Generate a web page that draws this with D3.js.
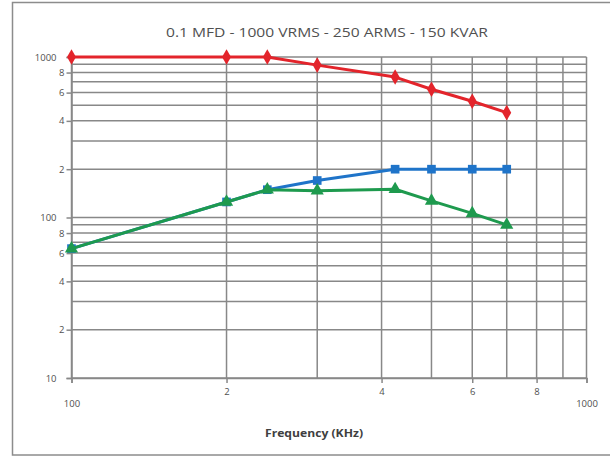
<!DOCTYPE html>
<html>
<head>
<meta charset="utf-8">
<script src="https://cdn.jsdelivr.net/npm/d3@7"></script>
<style>
  html, body { margin: 0; padding: 0; background: #fff; }
  svg { display: block; }
</style>
</head>
<body>
<svg id="chart" width="610" height="458"></svg>
<script>
// ---- data ----
const titleText = "0.1 MFD - 1000 VRMS - 250 ARMS - 150 KVAR";
const xTitle = "Frequency (KHz)";
const frequencies = [100, 200, 240, 300, 425, 500, 600, 700];
const redValues   = [1000, 1000, 1000, 890, 750, 630, 530, 450];
const blueValues  = [64, 125, 149, 170, 200, 200, 200, 200];
const greenValues = [64, 125, 149, 147, 150, 127, 106, 90];
const xTickValues = [100, 200, 400, 600, 800, 1000];
const xTickLabels = ["100", "2", "4", "6", "8", "1000"];
const yTickValues = [1000, 800, 600, 400, 200, 100, 80, 60, 40, 20, 10];
const yTickLabels = ["1000", "8", "6", "4", "2", "100", "8", "6", "4", "2", "10"];
const decades = [10, 100];
const multipliers = [1, 2, 3, 4, 5, 6, 7, 8, 9];

const series = [
  { values: redValues,   color: "#e3242b", marker: "diamond" },
  { values: blueValues,  color: "#1f74c9", marker: "square" },
  { values: greenValues, color: "#1e9a4e", marker: "triangle" }
];

// ---- layout ----
const svg = d3.select("#chart");
const plotL = 71.5, plotR = 586.5, plotT = 57, plotB = 378;
const x = d3.scaleLog().domain([100, 1000]).range([plotL, plotR]);
const y = d3.scaleLog().domain([10, 1000]).range([plotB, plotT]);
const font = "'Open Sans', 'Liberation Sans', sans-serif";

svg.append("rect").attr("x", 0).attr("y", 0).attr("width", 610).attr("height", 458).attr("fill", "#fff");
// outer frame
svg.append("rect")
  .attr("x", 12.5).attr("y", 2.5).attr("width", 610).attr("height", 452.5)
  .attr("fill", "none").attr("stroke", "#8c8c8c").attr("stroke-width", 1.5);

// title
svg.append("text")
  .attr("x", 327).attr("y", 37)
  .attr("text-anchor", "middle")
  .attr("font-family", font).attr("font-size", 13)
  .attr("textLength", 322).attr("lengthAdjust", "spacingAndGlyphs")
  .attr("fill", "#505050")
  .text(titleText);

// gridlines
const gridVals = [];
decades.forEach(d => multipliers.forEach(m => gridVals.push(d * m)));
gridVals.push(1000);
const grid = svg.append("g").attr("stroke", "#888").attr("stroke-width", 1.5);
gridVals.forEach(v => {
  grid.append("line").attr("x1", plotL).attr("x2", plotR).attr("y1", y(v)).attr("y2", y(v));
});
gridVals.filter(v => v >= 100).forEach(v => {
  grid.append("line").attr("x1", x(v)).attr("x2", x(v)).attr("y1", plotT).attr("y2", plotB);
});

// axes
const yAxis = svg.append("g")
  .attr("transform", `translate(${plotL},0)`)
  .call(d3.axisLeft(y).tickValues(yTickValues).tickSize(5).tickPadding(3)
    .tickFormat((d, i) => yTickLabels[i]));
const xAxis = svg.append("g")
  .attr("transform", `translate(0,${plotB})`)
  .call(d3.axisBottom(x).tickValues(xTickValues).tickSize(5).tickPadding(4)
    .tickFormat((d, i) => xTickLabels[i]));
[xAxis, yAxis].forEach(a => {
  a.select(".domain").attr("stroke", "#888").attr("stroke-width", 1.5);
  a.selectAll(".tick line").attr("stroke", "#888").attr("stroke-width", 1.5);
  a.selectAll("text").attr("font-family", font).attr("font-size", 9.5).attr("fill", "#505050");
});
yAxis.selectAll(".tick text")
  .attr("x", d => (d === 1000 || d === 100 || d === 10) ? -15 : -7);
xAxis.selectAll(".tick text")
  .attr("y", d => (d === 100 || d === 1000) ? 22 : 10);

// x title
svg.append("text")
  .attr("x", 314).attr("y", 437)
  .attr("text-anchor", "middle")
  .attr("font-family", font).attr("font-size", 10.5).attr("font-weight", "bold")
  .attr("textLength", 98).attr("lengthAdjust", "spacingAndGlyphs")
  .attr("fill", "#404040")
  .text(xTitle);

// series
const line = d3.line().x((d, i) => x(frequencies[i])).y(d => y(d));
const symbolTypes = { diamond: d3.symbolDiamond, square: d3.symbolSquare, triangle: d3.symbolTriangle };
series.forEach(s => {
  svg.append("path")
    .datum(s.values)
    .attr("d", line)
    .attr("fill", "none")
    .attr("stroke", s.color)
    .attr("stroke-width", 3)
    .attr("stroke-linejoin", "round");
  const sym = d3.symbol().type(symbolTypes[s.marker]).size(s.marker === "diamond" ? 70 : 75);
  svg.append("g").selectAll("path")
    .data(s.values)
    .join("path")
    .attr("transform", (d, i) => `translate(${x(frequencies[i])},${y(d)})`)
    .attr("d", sym)
    .attr("fill", s.color);
});
</script>
</body>
</html>
